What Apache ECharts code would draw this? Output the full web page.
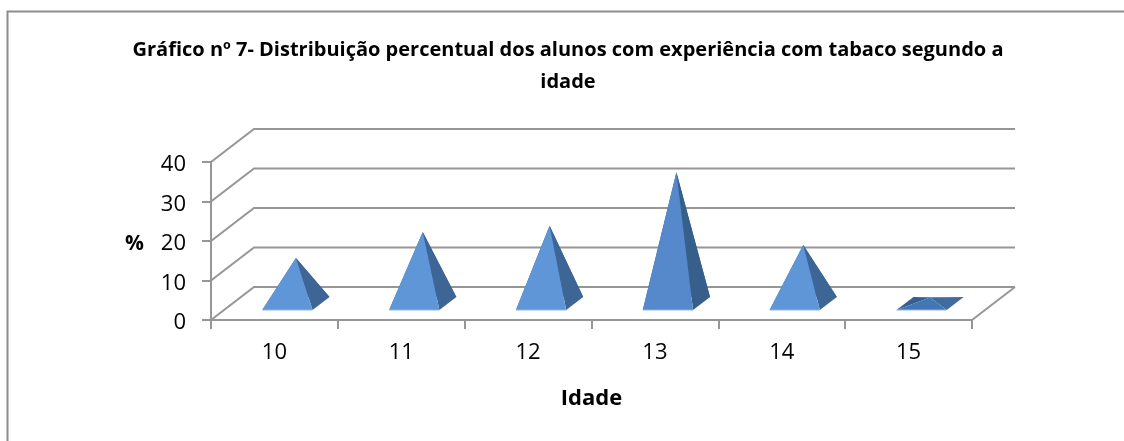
<!DOCTYPE html>
<html>
<head>
<meta charset="utf-8">
<style>html,body{margin:0;padding:0;background:#fff}#c{width:1124px;height:441px}</style>
<script src="https://cdn.jsdelivr.net/npm/echarts@6/dist/echarts.min.js"></script>
</head>
<body>
<div id="c"></div>
<script>
const titleText = 'Gráfico nº 7- Distribuição percentual dos alunos com experiência com tabaco segundo a\nidade';
const categories = ['10', '11', '12', '13', '14', '15'];
const values = [11.5, 18.1, 19.7, 33.2, 14.8, 1.5];
const yTicks = [0, 10, 20, 30, 40];
const xName = 'Idade';
const yName = '%';

const DEPTH = [43, -33];
const FONT = '"Open Sans", Lato, sans-serif';
const BOLD = '"Open Sans", Lato, sans-serif';
const AXIS = '#969696';
const HALF_BASE = 0.198;
const HALF_DEPTH = [8.5, -6.5];

const chart = echarts.init(document.getElementById('c'), null, {renderer: 'canvas'});

function wallItem(params, api) {
  const v = api.value(0);
  const last = categories.length - 1;
  const halfBand = api.size([1, 0])[0] / 2;
  const a = api.coord([0, v]);
  const b = api.coord([last, v]);
  const x0 = a[0] - halfBand, x1 = b[0] + halfBand, y = a[1];
  const children = [{
    type: 'polyline',
    shape: {points: [[x0, y], [x0 + DEPTH[0], y + DEPTH[1]], [x1 + DEPTH[0], y + DEPTH[1]]]},
    style: {stroke: AXIS, lineWidth: 2, fill: null}
  }];
  if (v === yTicks[0]) {
    children.push({
      type: 'line',
      shape: {x1: x1, y1: y, x2: x1 + DEPTH[0], y2: y + DEPTH[1]},
      style: {stroke: AXIS, lineWidth: 2}
    });
  }
  return {type: 'group', children: children};
}

function pyramidItem(params, api) {
  const i = api.value(0), v = api.value(1);
  const base = api.coord([i, 0]);
  const top = api.coord([i, v]);
  const half = api.size([1, 0])[0] * HALF_BASE;
  const cx = base[0] + DEPTH[0] / 2, cy = base[1] + DEPTH[1] / 2;
  const apex = [top[0] + DEPTH[0] / 2, top[1] + DEPTH[1] / 2];
  const fl = [cx - half - HALF_DEPTH[0], cy - HALF_DEPTH[1]];
  const fr = [cx + half - HALF_DEPTH[0], cy - HALF_DEPTH[1]];
  const br = [cx + half + HALF_DEPTH[0], cy + HALF_DEPTH[1]];
  const bl = [cx - half + HALF_DEPTH[0], cy + HALF_DEPTH[1]];
  const flat = v < 4, tall = v > 30;
  const front = flat ? '#4277b3' : tall ? '#5589cc' : '#5f96d8';
  const side = flat ? '#3f6b9f' : tall ? '#375f8c' : '#3d6696';
  return {type: 'group', children: [
    {type: 'polygon', shape: {points: [fl, bl, apex]}, style: {fill: '#345f90'}},
    {type: 'polygon', shape: {points: [bl, br, apex]}, style: {fill: '#345f90'}},
    {type: 'polygon', shape: {points: [fr, br, apex]}, style: {fill: side}},
    {type: 'polygon', shape: {points: [fl, fr, apex]}, style: {fill: front}},
    {type: 'line', shape: {x1: fl[0], y1: fl[1], x2: fr[0], y2: fr[1]}, style: {stroke: '#8fb6e6', lineWidth: 1}}
  ]};
}

chart.setOption({
  animation: false,
  backgroundColor: '#ffffff',
  title: {
    text: titleText,
    left: 563,
    top: 29,
    textAlign: 'center',
    textStyle: {fontFamily: BOLD, fontWeight: 'bold', fontSize: 20, lineHeight: 32, color: '#000'}
  },
  grid: {left: 211, right: 152, top: 162, bottom: 121},
  xAxis: {
    type: 'category',
    data: categories,
    boundaryGap: true,
    name: xName,
    nameLocation: 'middle',
    nameGap: 68,
    nameTextStyle: {fontFamily: BOLD, fontWeight: 'bold', fontSize: 22, color: '#000'},
    axisLine: {show: true, lineStyle: {color: AXIS, width: 2}},
    axisTick: {show: true, length: 9, lineStyle: {color: AXIS, width: 2}},
    axisLabel: {fontFamily: FONT, fontSize: 22, color: '#000', margin: 22},
    splitLine: {show: false}
  },
  yAxis: {
    type: 'value',
    min: 0,
    max: 40,
    interval: 10,
    name: yName,
    nameLocation: 'middle',
    nameRotate: 0,
    nameGap: 67,
    nameTextStyle: {fontFamily: BOLD, fontWeight: 'bold', fontSize: 21, color: '#000', verticalAlign: 'top', lineHeight: 6},
    axisLine: {show: true, lineStyle: {color: AXIS, width: 2}},
    axisTick: {show: true, length: 9, lineStyle: {color: AXIS, width: 2}},
    axisLabel: {fontFamily: FONT, fontSize: 22, color: '#000', margin: 25, verticalAlign: 'top', lineHeight: 6},
    splitLine: {show: false}
  },
  graphic: [
    {type: 'polyline', silent: true, z: -1,
     shape: {points: [[7.5, 441], [7.5, 11.5], [1124, 11.5]]},
     style: {stroke: '#8c8c8c', lineWidth: 2, fill: null}}
  ],
  series: [
    {type: 'custom', coordinateSystem: 'cartesian2d', clip: false, z: 1,
     encode: {y: 0}, renderItem: wallItem,
     data: yTicks.map(v => [v])},
    {type: 'custom', coordinateSystem: 'cartesian2d', clip: false, z: 3,
     encode: {x: 0, y: 1}, renderItem: pyramidItem,
     data: values.map((v, i) => [i, v])}
  ]
});
</script>
</body>
</html>
